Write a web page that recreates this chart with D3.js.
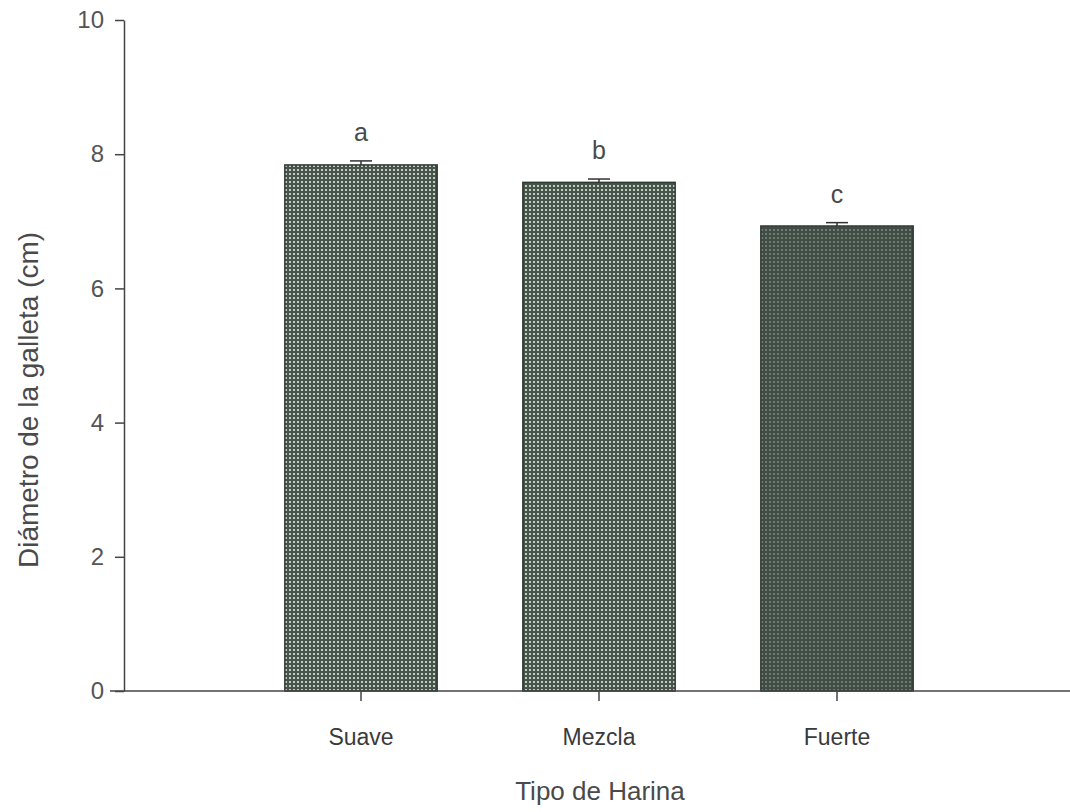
<!DOCTYPE html>
<html>
<head>
<meta charset="utf-8">
<script src="https://cdn.jsdelivr.net/npm/d3@7"></script>
<style>
  body { margin: 0; background: #fff; }
  svg text { font-family: "Liberation Sans", Arial, sans-serif; fill: #4a4a4a; }
</style>
</head>
<body>
<div id="chart"></div>
<script>
// data
const categories = ["Suave", "Mezcla", "Fuerte"];
const means = [7.84, 7.58, 6.93];
const errors = [0.06, 0.05, 0.05];
const letters = ["a", "b", "c"];
const yTicks = [0, 2, 4, 6, 8, 10];

const width = 1070, height = 812;
const margin = { top: 20, left: 124, bottom: 121 };

const svg = d3.select("#chart").append("svg")
  .attr("width", width)
  .attr("height", height);

// dotted fills like the scanned screen tone
const defs = svg.append("defs");
function dotPattern(id, bg, dot, r) {
  const p = defs.append("pattern")
    .attr("id", id)
    .attr("patternUnits", "userSpaceOnUse")
    .attr("width", 4).attr("height", 4);
  p.append("rect").attr("width", 4).attr("height", 4).attr("fill", bg);
  p.append("rect").attr("x", 1).attr("y", 1).attr("width", r).attr("height", r).attr("fill", dot);
}
dotPattern("tone-light", "#46544a", "#c2cac4", 2);
dotPattern("tone-dark", "#3f4d44", "#6f7b73", 2);
const fills = ["url(#tone-light)", "url(#tone-light)", "url(#tone-dark)"];

const y = d3.scaleLinear().domain([0, 10]).range([height - margin.bottom, margin.top]);
const x = d3.scaleBand().domain(categories)
  .range([242, 956])
  .paddingInner(0.36)
  .paddingOuter(0.18);

const y0 = y(0);

// bars
svg.selectAll(".bar")
  .data(categories)
  .enter().append("rect")
  .attr("class", "bar")
  .attr("x", d => x(d))
  .attr("y", (d, i) => y(means[i]))
  .attr("width", x.bandwidth())
  .attr("height", (d, i) => y0 - y(means[i]))
  .attr("fill", (d, i) => fills[i])
  .attr("stroke", "#2e3932")
  .attr("stroke-width", 1.5);

// error bars (upper half only)
const eb = svg.selectAll(".err")
  .data(categories)
  .enter().append("g")
  .attr("class", "err");
eb.append("line")
  .attr("x1", d => x(d) + x.bandwidth() / 2)
  .attr("x2", d => x(d) + x.bandwidth() / 2)
  .attr("y1", (d, i) => y(means[i]))
  .attr("y2", (d, i) => y(means[i] + errors[i]))
  .attr("stroke", "#333").attr("stroke-width", 1.5);
eb.append("line")
  .attr("x1", d => x(d) + x.bandwidth() / 2 - 11)
  .attr("x2", d => x(d) + x.bandwidth() / 2 + 11)
  .attr("y1", (d, i) => y(means[i] + errors[i]))
  .attr("y2", (d, i) => y(means[i] + errors[i]))
  .attr("stroke", "#333").attr("stroke-width", 1.5);

// significance letters
svg.selectAll(".letter")
  .data(categories)
  .enter().append("text")
  .attr("class", "letter")
  .attr("x", d => x(d) + x.bandwidth() / 2)
  .attr("y", (d, i) => y(means[i] + errors[i]) - 20)
  .attr("text-anchor", "middle")
  .style("font-size", "25px")
  .text((d, i) => letters[i]);

// y axis
const yAxis = svg.append("g")
  .attr("transform", `translate(${margin.left},0)`)
  .call(d3.axisLeft(y).tickValues(yTicks).tickSize(9).tickPadding(11).tickSizeOuter(0));
yAxis.attr("font-size", null).attr("font-family", null);
yAxis.select(".domain").attr("stroke", "#444").attr("stroke-width", 1.5);
yAxis.selectAll(".tick line").attr("stroke", "#444").attr("stroke-width", 1.5);
yAxis.selectAll(".tick text").style("font-size", "24px").style("fill", "#555");

// x axis
const xAxis = svg.append("g")
  .attr("transform", `translate(0,${y0})`)
  .call(d3.axisBottom(x).tickSize(10).tickPadding(28).tickSizeOuter(0));
xAxis.attr("font-size", null).attr("font-family", null);
xAxis.select(".domain").attr("d", `M${margin.left - 14},0H${width}`)
  .attr("stroke", "#444").attr("stroke-width", 1.5);
xAxis.selectAll(".tick line").attr("stroke", "#444").attr("stroke-width", 1.5);
xAxis.selectAll(".tick text").style("font-size", "23px").style("fill", "#3a3a3a");

// axis titles
svg.append("text")
  .attr("x", 600).attr("y", 800)
  .attr("text-anchor", "middle")
  .style("font-size", "26px")
  .text("Tipo de Harina");

svg.append("text")
  .attr("transform", `translate(38,400) rotate(-90)`)
  .attr("text-anchor", "middle")
  .style("font-size", "28px")
  .text("Diámetro de la galleta (cm)");
</script>
</body>
</html>
